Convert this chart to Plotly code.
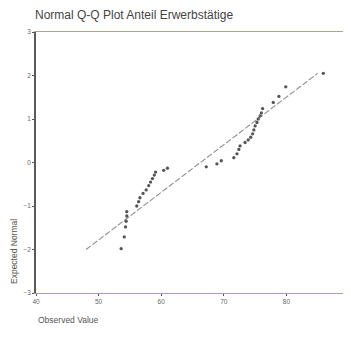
import plotly.graph_objects as go

observed_value = [53.6, 54.1, 54.3, 54.4, 54.5, 54.5, 56.1, 56.4, 56.6, 57.1,
                  57.6, 58.0, 58.3, 58.6, 58.9, 59.1, 60.4, 61.0, 67.2, 68.9,
                  69.6, 71.6, 72.1, 72.4, 72.6, 73.4, 73.9, 74.3, 74.6, 74.8,
                  75.0, 75.3, 75.5, 75.8, 76.0, 76.2, 77.9, 78.8, 79.9, 85.9]
expected_normal = [-1.98, -1.71, -1.48, -1.35, -1.23, -1.13, -1.00, -0.90, -0.81, -0.71,
                   -0.63, -0.53, -0.45, -0.37, -0.29, -0.22, -0.18, -0.13, -0.10, -0.03,
                   0.04, 0.11, 0.20, 0.30, 0.38, 0.46, 0.52, 0.58, 0.66, 0.75,
                   0.84, 0.92, 1.00, 1.07, 1.14, 1.24, 1.38, 1.52, 1.74, 2.05]

# Reference line endpoints
ref_x = [48.0, 85.0]
ref_y = [-2.0, 2.05]

x_ticks = [40, 50, 60, 70, 80, 90]
y_ticks = [-3, -2, -1, 0, 1, 2, 3]

font_family = "Liberation Sans, Arial, sans-serif"

# page body has an 8px margin, so the figure is sized/offset to compensate
W, H = 343, 335

fig = go.Figure()
fig.add_trace(go.Scatter(
    x=ref_x, y=ref_y, mode="lines",
    line=dict(color="#8f8f8f", width=1.1, dash="6px,2px"),
    hoverinfo="skip", showlegend=False))
fig.add_trace(go.Scatter(
    x=observed_value, y=expected_normal, mode="markers",
    marker=dict(color="#555555", size=3.3),
    showlegend=False))

fig.update_layout(
    width=W, height=H,
    margin=dict(l=28, r=2, t=24, b=50),
    paper_bgcolor="white", plot_bgcolor="white",
    font=dict(family=font_family, color="#555555"),
    title=dict(text="Normal Q-Q Plot Anteil Erwerbstätige",
               font=dict(size=12, color="#444444", family=font_family),
               xref="container", yref="container",
               x=27 / W, xanchor="left", y=1 - 7 / H, yanchor="middle"),
    xaxis=dict(range=[40, 90], tickvals=x_ticks, showgrid=False, zeroline=False,
               showline=True, linecolor="#b9a27e", linewidth=1.3, mirror=True,
               ticks="outside", ticklen=2, tickcolor="#555555",
               tickfont=dict(size=6.5, color="#666666")),
    yaxis=dict(range=[-3, 3], tickvals=y_ticks, showgrid=False, zeroline=False,
               showline=True, linecolor="#5a5a5a", linewidth=1.5,
               ticks="outside", ticklen=2, tickcolor="#555555",
               tickfont=dict(size=6.5, color="#666666")),
    shapes=[dict(type="line", xref="paper", yref="paper", x0=1, x1=1, y0=0, y1=1,
                 line=dict(color="#e6e6e6", width=1))],
    annotations=[
        dict(text="Expected Normal", textangle=-90, xref="paper", yref="paper",
             x=(14 - 36) / 313, y=(293 - 252) / 261, xanchor="center", yanchor="middle",
             showarrow=False, font=dict(size=8.5, color="#555555", family=font_family)),
        dict(text="Observed Value", xref="paper", yref="paper",
             x=0, y=(293 - 320) / 261, xanchor="left", yanchor="middle",
             showarrow=False, font=dict(size=8.5, color="#555555", family=font_family)),
    ],
)

fig.write_html("out.html")
